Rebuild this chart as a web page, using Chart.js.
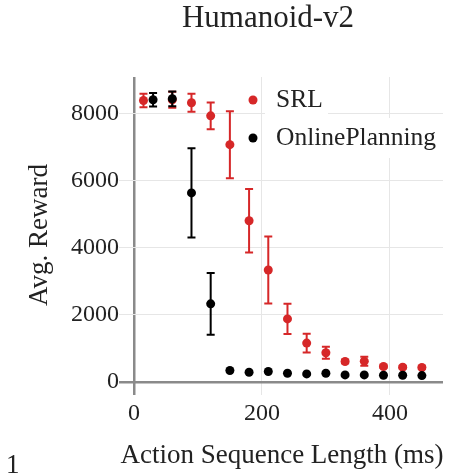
<!DOCTYPE html>
<html lang="en">
<head>
  <meta charset="UTF-8" />
  <title>Humanoid-v2</title>
  <script src="https://cdn.jsdelivr.net/npm/chart.js"></script>
  <style>
    html, body { margin: 0; padding: 0; background: #fff; }
    .caixa { position: relative; width: 450px; height: 473px; }
  </style>
</head>
<body>
<div class="caixa"><canvas id="grafico"></canvas></div>

<script>
  // tick marks
  const xTicks = [0, 200, 400];
  const yTicks = [0, 2000, 4000, 6000, 8000];

  // SRL: action sequence length (ms) -> avg reward, with std error
  const srlX = [15, 60, 90, 120, 150, 180, 210, 240, 270, 300, 330, 360, 390, 420, 450];
  const srlY = [8400, 8420, 8330, 7940, 7080, 4810, 3340, 1880, 1160, 870, 610, 620, 460, 440, 430];
  const srlErr = [200, 240, 270, 400, 1000, 950, 1000, 450, 280, 180, 50, 135, 40, 40, 40];

  // OnlinePlanning
  const onlineX = [30, 60, 90, 120, 150, 180, 210, 240, 270, 300, 330, 360, 390, 420, 450];
  const onlineY = [8420, 8450, 5640, 2330, 340, 290, 310, 260, 240, 260, 210, 210, 200, 200, 190];
  const onlineErr = [200, 220, 1330, 920, 0, 0, 0, 0, 0, 0, 0, 0, 0, 0, 0];

  const vermelho = "#d62728";
  const preto = "#000000";
  const fonte = '"Liberation Serif", "Times New Roman", serif';
  const corTexto = "#222222";

  function pontos(xs, ys) {
    return xs.map((x, i) => ({ x: x, y: ys[i] }));
  }

  // error bars drawn just before each dataset's points
  const barrasErro = {
    id: "barrasErro",
    beforeDatasetDraw(chart, args) {
      const ds = chart.data.datasets[args.index];
      if (!ds.erros) return;
      const ctx = chart.ctx;
      const sx = chart.scales.x;
      const sy = chart.scales.y;
      ctx.save();
      ctx.strokeStyle = ds.borderColor;
      ctx.lineWidth = 2;
      ds.data.forEach((p, i) => {
        const e = ds.erros[i];
        if (!e) return;
        const px = sx.getPixelForValue(p.x);
        const top = sy.getPixelForValue(p.y + e);
        const bot = sy.getPixelForValue(p.y - e);
        ctx.beginPath();
        ctx.moveTo(px, top);
        ctx.lineTo(px, bot);
        ctx.moveTo(px - 4, top);
        ctx.lineTo(px + 4, top);
        ctx.moveTo(px - 4, bot);
        ctx.lineTo(px + 4, bot);
        ctx.stroke();
      });
      ctx.restore();
    }
  };

  // title, axis titles and the legend inside the plot
  const textos = {
    id: "textos",
    afterDraw(chart) {
      const ctx = chart.ctx;
      ctx.save();
      ctx.fillStyle = corTexto;
      ctx.textAlign = "center";
      ctx.textBaseline = "alphabetic";
      ctx.font = "31px " + fonte;
      ctx.fillText("Humanoid-v2", 268, 27);

      ctx.textBaseline = "middle";
      ctx.font = "27px " + fonte;
      ctx.fillText("Action Sequence Length (ms)", 282, 456);

      ctx.save();
      ctx.translate(40, 235);
      ctx.rotate(-Math.PI / 2);
      ctx.fillText("Avg. Reward", 0, 0);
      ctx.restore();

      ctx.textAlign = "left";
      ctx.fillText("1", 6, 466);

      // legend
      ctx.font = "25.5px " + fonte;
      const itens = [
        { nome: "SRL", cor: vermelho, y: 100, caixa: [265, 86, 63, 30] },
        { nome: "OnlinePlanning", cor: preto, y: 138, caixa: [265, 118, 180, 40] }
      ];
      itens.forEach(it => {
        ctx.fillStyle = "#ffffff";
        ctx.fillRect(it.caixa[0], it.caixa[1], it.caixa[2], it.caixa[3]);
        ctx.fillStyle = it.cor;
        ctx.beginPath();
        ctx.arc(253, it.y, 4.5, 0, Math.PI * 2);
        ctx.fill();
        ctx.fillStyle = corTexto;
        ctx.fillText(it.nome, 276, it.y);
      });
      ctx.restore();
    }
  };

  function corGrade(ctx) {
    return ctx.tick && ctx.tick.value === 0 ? "#8a8a8a" : "#e6e6e6";
  }
  function larguraGrade(ctx) {
    return ctx.tick && ctx.tick.value === 0 ? 2.5 : 1;
  }

  const config = {
    type: "scatter",
    data: {
      datasets: [
        {
          label: "SRL",
          data: pontos(srlX, srlY),
          erros: srlErr,
          borderColor: vermelho,
          backgroundColor: vermelho,
          pointRadius: 4.5,
          pointBorderWidth: 0,
          order: 2
        },
        {
          label: "OnlinePlanning",
          data: pontos(onlineX, onlineY),
          erros: onlineErr,
          borderColor: preto,
          backgroundColor: preto,
          pointRadius: 4.5,
          pointBorderWidth: 0,
          order: 1
        }
      ]
    },
    options: {
      responsive: true,
      maintainAspectRatio: false,
      animation: false,
      layout: { padding: { top: 77, right: 7, left: 0, bottom: 0 } },
      scales: {
        x: {
          type: "linear",
          min: -17,
          max: 483,
          afterBuildTicks: s => { s.ticks = xTicks.map(v => ({ value: v })); },
          afterFit: s => { s.height = 78; },
          border: { display: false },
          grid: { color: corGrade, lineWidth: larguraGrade, drawTicks: false },
          ticks: { color: corTexto, font: { family: fonte, size: 24 }, padding: 4, maxRotation: 0, callback: v => String(v) }
        },
        y: {
          min: -390,
          max: 9100,
          afterBuildTicks: s => { s.ticks = yTicks.map(v => ({ value: v })); },
          afterFit: s => { s.width = 123; },
          border: { display: false },
          grid: { color: corGrade, lineWidth: larguraGrade, drawTicks: true, tickLength: 4 },
          ticks: { color: corTexto, font: { family: fonte, size: 24 }, padding: 0, callback: v => String(v) }
        }
      },
      plugins: {
        legend: { display: false },
        tooltip: { enabled: false }
      }
    },
    plugins: [barrasErro, textos]
  };

  new Chart(document.getElementById("grafico").getContext("2d"), config);
</script>
</body>
</html>
